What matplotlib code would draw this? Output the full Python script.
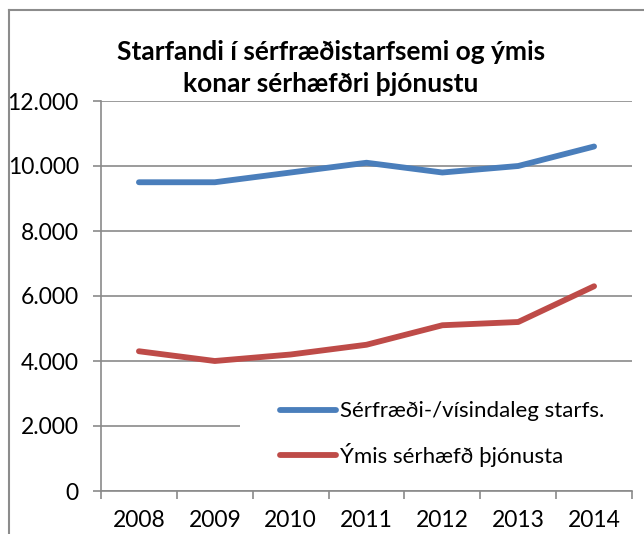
import numpy as np
import matplotlib.pyplot as plt
from matplotlib.lines import Line2D
from matplotlib.patches import Rectangle

# --- Data ---
years = ["2008", "2009", "2010", "2011", "2012", "2013", "2014"]
serfraedi = [9500, 9500, 9800, 10100, 9800, 10000, 10600]
ymis = [4300, 4000, 4200, 4500, 5100, 5200, 6300]
series_names = ["Sérfræði-/vísindaleg starfs.", "Ýmis sérhæfð þjónusta"]
title = "Starfandi í sérfræðistarfsemi og ýmis\nkonar sérhæfðri þjónustu"
yticks = [0, 2000, 4000, 6000, 8000, 10000, 12000]

plt.rcParams['font.family'] = ['Lato', 'DejaVu Sans']

W, H = 644, 534
fig = plt.figure(figsize=(W / 100, H / 100), dpi=100)
ax = fig.add_axes([101 / W, 1 - 491 / H, (632 - 101) / W, (491 - 101) / H])

x = np.arange(len(years))
ax.plot(x, serfraedi, color='#4A7EBB', lw=4.2, solid_capstyle='round',
        solid_joinstyle='round', label=series_names[0], zorder=3)
ax.plot(x, ymis, color='#BE4B48', lw=4.2, solid_capstyle='round',
        solid_joinstyle='round', label=series_names[1], zorder=3)

grid_col = '#8a8a8a'
ax.set_xlim(-0.5, len(years) - 0.5)
ax.set_ylim(0, 12000)
ax.set_yticks(yticks)
ax.set_yticklabels([f"{v:,.0f}".replace(',', '.') for v in yticks], fontsize=16.5)
ax.yaxis.grid(True, color=grid_col, lw=1.2)
ax.set_axisbelow(True)

# category boundaries get the tick marks, centers get the labels
ax.set_xticks(np.arange(-0.5, len(years), 1))
ax.set_xticklabels([])
ax.set_xticks(x, labels=years, minor=True)
ax.tick_params(axis='x', which='minor', length=0, pad=14, labelsize=16.5)
ax.tick_params(axis='x', which='major', length=6, color=grid_col, width=1.2)
ax.tick_params(axis='y', length=6, color=grid_col, width=1.2, pad=10)

for s in ['top', 'right']:
    ax.spines[s].set_visible(False)
for s in ['left', 'bottom']:
    ax.spines[s].set_color(grid_col)
    ax.spines[s].set_linewidth(1.2)

# white legend area covering the gridline
ax.add_patch(Rectangle((240 / W, 1 - 475 / H), (632 - 240) / W, (475 - 392) / H,
                       transform=fig.transFigure, facecolor='white',
                       edgecolor='none', zorder=2))
leg = ax.legend(loc='center left', bbox_to_anchor=(280 / W, 1 - 434 / H),
                bbox_transform=fig.transFigure, fontsize=16, frameon=False,
                handlelength=2.5, handletextpad=0.22,
                labelspacing=0.95, borderpad=0, borderaxespad=0)

fig.text(331 / W, 1 - 68 / H, title, ha='center', va='center',
         fontsize=19, fontweight='bold', linespacing=1.45)

# outer chart border (cropped on right and bottom)
fig.add_artist(Line2D([9 / W, 9 / W], [0, 1 - 10 / H], transform=fig.transFigure,
                      color='#8c8c8c', lw=1.5))
fig.add_artist(Line2D([9 / W, 1], [1 - 10 / H, 1 - 10 / H], transform=fig.transFigure,
                      color='#8c8c8c', lw=1.5))

fig.savefig('out.png', dpi=100)
